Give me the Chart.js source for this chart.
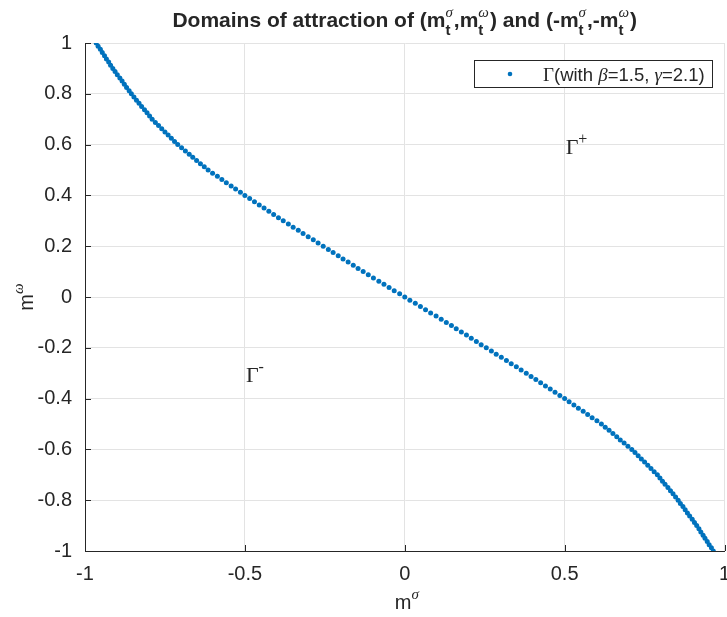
<!DOCTYPE html>
<html>
<head>
<meta charset="utf-8">
<script src="https://cdn.jsdelivr.net/npm/chart.js@4/dist/chart.umd.min.js"></script>
<style>
html, body { margin: 0; padding: 0; background: #fff; }
</style>
</head>
<body>
<canvas id="myChart" width="727" height="617"></canvas>
<script>
var ctx = document.getElementById('myChart');

// boundary points Gamma (m_sigma, m_omega)
var yVals = [
1, 0.9875, 0.975, 0.9625, 0.95, 0.9375, 0.925, 0.9125, 0.9,
0.8875, 0.875, 0.8625, 0.85, 0.8375, 0.825, 0.8125, 0.8,
0.7875, 0.775, 0.7625, 0.75, 0.7375, 0.725, 0.7125, 0.7,
0.6875, 0.675, 0.6625, 0.65, 0.6375, 0.625, 0.6125, 0.6,
0.5875, 0.575, 0.5625, 0.55, 0.5375, 0.525, 0.5125, 0.5,
0.4875, 0.475, 0.4625, 0.45, 0.4375, 0.425, 0.4125, 0.4,
0.3875, 0.375, 0.3625, 0.35, 0.3375, 0.325, 0.3125, 0.3,
0.2875, 0.275, 0.2625, 0.25, 0.2375, 0.225, 0.2125, 0.2,
0.1875, 0.175, 0.1625, 0.15, 0.1375, 0.125, 0.1125, 0.1,
0.0875, 0.075, 0.0625, 0.05, 0.0375, 0.025, 0.0125, 0,
-0.0125, -0.025, -0.0375, -0.05, -0.0625, -0.075, -0.0875, -0.1,
-0.1125, -0.125, -0.1375, -0.15, -0.1625, -0.175, -0.1875, -0.2,
-0.2125, -0.225, -0.2375, -0.25, -0.2625, -0.275, -0.2875, -0.3,
-0.3125, -0.325, -0.3375, -0.35, -0.3625, -0.375, -0.3875, -0.4,
-0.4125, -0.425, -0.4375, -0.45, -0.4625, -0.475, -0.4875, -0.5,
-0.5125, -0.525, -0.5375, -0.55, -0.5625, -0.575, -0.5875, -0.6,
-0.6125, -0.625, -0.6375, -0.65, -0.6625, -0.675, -0.6875, -0.7,
-0.7125, -0.725, -0.7375, -0.75, -0.7625, -0.775, -0.7875, -0.8,
-0.8125, -0.825, -0.8375, -0.85, -0.8625, -0.875, -0.8875, -0.9,
-0.9125, -0.925, -0.9375, -0.95, -0.9625, -0.975, -0.9875, -1
];
var xVals = [
-0.965, -0.959, -0.952, -0.946, -0.939, -0.933, -0.926, -0.920, -0.913,
-0.906, -0.899, -0.891, -0.884, -0.877, -0.870, -0.862, -0.855,
-0.847, -0.839, -0.831, -0.823, -0.814, -0.806, -0.798, -0.790,
-0.780, -0.770, -0.760, -0.750, -0.740, -0.730, -0.720, -0.710,
-0.698, -0.686, -0.674, -0.663, -0.651, -0.639, -0.627, -0.615,
-0.601, -0.586, -0.572, -0.558, -0.543, -0.529, -0.514, -0.500,
-0.485, -0.470, -0.455, -0.440, -0.425, -0.410, -0.395, -0.380,
-0.364, -0.349, -0.333, -0.318, -0.302, -0.286, -0.271, -0.255,
-0.239, -0.224, -0.208, -0.193, -0.177, -0.161, -0.146, -0.130,
-0.114, -0.098, -0.081, -0.065, -0.049, -0.033, -0.016, 0,
0.016, 0.033, 0.049, 0.065, 0.081, 0.098, 0.114, 0.130,
0.146, 0.161, 0.177, 0.193, 0.208, 0.224, 0.239, 0.255,
0.271, 0.286, 0.302, 0.318, 0.333, 0.349, 0.364, 0.380,
0.395, 0.410, 0.425, 0.440, 0.455, 0.470, 0.485, 0.500,
0.514, 0.529, 0.543, 0.558, 0.572, 0.586, 0.601, 0.615,
0.627, 0.639, 0.651, 0.663, 0.674, 0.686, 0.698, 0.710,
0.720, 0.730, 0.740, 0.750, 0.760, 0.770, 0.780, 0.790,
0.798, 0.806, 0.814, 0.823, 0.831, 0.839, 0.847, 0.855,
0.862, 0.870, 0.877, 0.884, 0.891, 0.899, 0.906, 0.913,
0.920, 0.926, 0.933, 0.939, 0.946, 0.952, 0.959, 0.965
];

var xTicks = [-1, -0.5, 0, 0.5, 1];
var yTicks = [-1, -0.8, -0.6, -0.4, -0.2, 0, 0.2, 0.4, 0.6, 0.8, 1];

var seriesName = 'Γ(with β=1.5, γ=2.1)';
// region labels Gamma+ / Gamma-
var regionNames = ['Γ', 'Γ'];
var regionSups = ['+', '-'];
var regionX = [0.5, -0.5];
var regionY = [0.6, -0.3];

var ink = '#262626';
var blue = '#0072BD';
var sans = '"Liberation Sans", Arial, sans-serif';
var serif = '"Liberation Serif", "Times New Roman", serif';

var points = xVals.map(function (x, i) { return { x: x, y: yVals[i] }; });

// draw a run of pieces: plain text, or a stacked sub/sup pair
function drawRich(c, parts, x, y, align) {
  var w = 0;
  parts.forEach(function (p) {
    if (p.stack) {
      c.font = p.subFont; var a = c.measureText(p.sub).width;
      c.font = p.supFont; var b = c.measureText(p.sup).width;
      p.w = Math.max(a, b) + 1;
    } else if (p.sup) {
      c.font = p.supFont; p.w = c.measureText(p.sup).width;
    } else {
      c.font = p.font; p.w = c.measureText(p.text).width;
    }
    w += p.w;
  });
  var cx = align === 'center' ? x - w / 2 : x;
  c.textAlign = 'left';
  c.textBaseline = 'alphabetic';
  parts.forEach(function (p) {
    if (p.stack) {
      c.font = p.subFont; c.fillText(p.sub, cx, y + p.subDy);
      c.font = p.supFont; c.fillText(p.sup, cx, y + p.supDy);
    } else if (p.sup) {
      c.font = p.supFont; c.fillText(p.sup, cx, y + p.supDy);
    } else {
      c.font = p.font; c.fillText(p.text, cx, y);
    }
    cx += p.w;
  });
  return w;
}

var titleFont = 'bold 21px ' + sans;
function tsup(g) {
  return { stack: true, sub: 't', sup: g, subFont: 'bold 15px ' + sans, supFont: 'italic 15px ' + serif, subDy: 8, supDy: -10 };
}
var titleParts = [
  { font: titleFont, text: 'Domains of attraction of (m' }, tsup('σ'),
  { font: titleFont, text: ',m' }, tsup('ω'),
  { font: titleFont, text: ') and (-m' }, tsup('σ'),
  { font: titleFont, text: ',-m' }, tsup('ω'),
  { font: titleFont, text: ')' }
];

var overlay = {
  id: 'overlay',
  afterDraw: function (chart) {
    var c = chart.ctx, xs = chart.scales.x, ys = chart.scales.y, a = chart.chartArea;
    c.save();
    c.fillStyle = ink;

    // inward tick marks
    c.strokeStyle = ink;
    c.lineWidth = 1;
    xTicks.forEach(function (v) {
      var px = Math.round(xs.getPixelForValue(v)) + 0.5;
      c.beginPath(); c.moveTo(px, a.bottom); c.lineTo(px, a.bottom - 6); c.stroke();
    });
    yTicks.forEach(function (v) {
      var py = Math.round(ys.getPixelForValue(v)) + 0.5;
      c.beginPath(); c.moveTo(a.left, py); c.lineTo(a.left + 6, py); c.stroke();
    });

    // title
    drawRich(c, titleParts, (a.left + a.right) / 2, 27, 'center');

    // x axis title
    drawRich(c, [
      { font: '20px ' + sans, text: 'm' },
      { sup: 'σ', supFont: 'italic 15px ' + serif, supDy: -10 }
    ], (a.left + a.right) / 2 + 2, 609, 'center');

    // y axis title (rotated)
    c.save();
    c.translate(33, (a.top + a.bottom) / 2);
    c.rotate(-Math.PI / 2);
    drawRich(c, [
      { font: '20px ' + sans, text: 'm' },
      { sup: 'ω', supFont: 'italic 15px ' + serif, supDy: -10 }
    ], 0, 0, 'center');
    c.restore();

    // region labels
    regionNames.forEach(function (n, i) {
      var px = xs.getPixelForValue(regionX[i]);
      var py = ys.getPixelForValue(regionY[i]);
      drawRich(c, [
        { font: '22px ' + serif, text: n },
        { sup: regionSups[i], supFont: '16px ' + serif, supDy: -10 }
      ], px + 1, py + 9, 'left');
    });

    // legend box
    var lx = 474, ly = 60, lw = 238, lh = 27;
    c.fillStyle = '#fff';
    c.fillRect(lx, ly, lw, lh);
    c.strokeStyle = ink;
    c.strokeRect(lx + 0.5, ly + 0.5, lw, lh);
    c.fillStyle = blue;
    c.beginPath(); c.arc(510, ly + lh / 2 + 0.5, 2.3, 0, Math.PI * 2); c.fill();
    c.fillStyle = ink;
    var ty = ly + lh / 2 + 7;
    drawRich(c, [
      { font: '19px ' + serif, text: 'Γ' },
      { font: '18.5px ' + sans, text: '(with ' },
      { font: 'italic 19px ' + serif, text: 'β' },
      { font: '18.5px ' + sans, text: '=1.5, ' },
      { font: 'italic 19px ' + serif, text: 'γ' },
      { font: '18.5px ' + sans, text: '=2.1)' }
    ], 543, ty, 'left');

    c.restore();
  }
};

var myChart = new Chart(ctx, {
  type: 'scatter',
  data: {
    datasets: [{
      label: seriesName,
      data: points,
      backgroundColor: blue,
      borderWidth: 0,
      pointRadius: 2.5,
      pointHoverRadius: 2.5
    }]
  },
  options: {
    responsive: false,
    animation: false,
    layout: { padding: { top: 43, left: 0, right: 0, bottom: 0 } },
    plugins: {
      legend: { display: false },
      title: { display: false },
      tooltip: { enabled: false }
    },
    scales: {
      x: {
        type: 'linear',
        min: -1,
        max: 1,
        afterBuildTicks: function (s) { s.ticks = xTicks.map(function (v) { return { value: v }; }); },
        afterFit: function (s) { s.height = 66; s.paddingLeft = 0; s.paddingRight = 0; },
        ticks: {
          color: ink,
          font: { family: sans, size: 20 },
          padding: 11,
          maxRotation: 0,
          autoSkip: false,
          callback: function (v) { return String(v); }
        },
        grid: { color: '#e3e3e3', drawTicks: false },
        border: { color: ink }
      },
      y: {
        type: 'linear',
        min: -1,
        max: 1,
        afterBuildTicks: function (s) { s.ticks = yTicks.map(function (v) { return { value: v }; }); },
        afterFit: function (s) { s.width = 85; s.paddingTop = 0; s.paddingBottom = 0; },
        ticks: {
          color: ink,
          font: { family: sans, size: 20 },
          padding: 13,
          autoSkip: false,
          callback: function (v) { return String(v); }
        },
        grid: { color: '#e3e3e3', drawTicks: false },
        border: { color: ink }
      }
    }
  },
  plugins: [overlay]
});
</script>
</body>
</html>
